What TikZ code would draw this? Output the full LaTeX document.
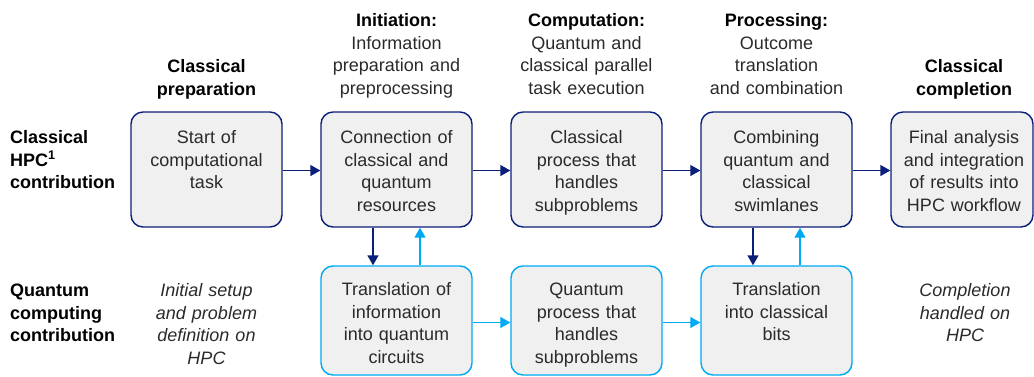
\documentclass[tikz,border=0pt]{standalone}
\usepackage{fontspec}
\setmainfont{Liberation Sans}
\usetikzlibrary{arrows.meta}
\definecolor{navy}{HTML}{0A1F7A}
\definecolor{cyanq}{HTML}{00A9F4}
\definecolor{boxfill}{HTML}{F0F0F0}
\definecolor{txt}{HTML}{2A2A2A}
\tikzset{
  cbox/.style={draw=navy, line width=1.4pt, fill=boxfill, rounded corners=12pt, minimum width=151pt, minimum height=115pt, inner sep=0pt},
  qbox/.style={draw=cyanq, line width=1.4pt, fill=boxfill, rounded corners=12pt, minimum width=151pt, minimum height=109pt, inner sep=0pt},
  btxt/.style={anchor=base, align=center, text width=150pt, inner sep=0pt, text=txt, font=\fontsize{18}{22.7}\selectfont},
  hdr/.style={anchor=base, align=center, text width=170pt, inner sep=0pt, text=txt, font=\fontsize{18}{22.7}\selectfont},
  lbl/.style={anchor=base west, align=left, text width=120pt, inner sep=0pt, text=black, font=\fontsize{18}{22.7}\selectfont\bfseries},
  itx/.style={anchor=base, align=center, text width=150pt, inner sep=0pt, text=txt, font=\fontsize{18}{22.7}\selectfont\itshape},
  carr/.style={navy, line width=1.4pt, -{Triangle[length=10pt,width=11pt]}},
  qarr/.style={cyanq, line width=1.4pt, -{Triangle[length=10pt,width=11pt]}}
}
\begin{document}
\begin{tikzpicture}[x=1pt,y=-1pt]
\useasboundingbox (0,0) rectangle (1034,376);
% headers
\node[hdr] (h1) at (206.5,72.5) {\textbf{\color{black}Classical}\\\textbf{\color{black}preparation}};
\node[hdr] (h2) at (396.5,26.5) {\textbf{\color{black}Initiation:}\\Information\\preparation and\\preprocessing};
\node[hdr] (h3) at (586.5,26.5) {\textbf{\color{black}Computation:}\\Quantum and\\classical parallel\\task execution};
\node[hdr] (h4) at (776.5,26.5) {\textbf{\color{black}Processing:}\\Outcome\\translation\\and combination};
\node[hdr] (h5) at (964,72.5) {\textbf{\color{black}Classical}\\\textbf{\color{black}completion}};
% row labels
\node[lbl] (l1) at (10,143.5) {Classical\\HPC\textsuperscript{1}\\contribution};
\node[lbl] (l2) at (10,296.5) {Quantum\\computing\\contribution};
% top boxes
\node[cbox] (c1) at (206.5,169.5) {};
\node[cbox] (c2) at (396.5,169.5) {};
\node[cbox] (c3) at (586.5,169.5) {};
\node[cbox] (c4) at (776.5,169.5) {};
\node[cbox, minimum width=142pt] (c5) at (962,169.5) {};
\node[btxt] (t1) at (206.5,143.5) {Start of\\computational\\task};
\node[btxt] (t2) at (396.5,143.5) {Connection of\\classical and\\quantum\\resources};
\node[btxt] (t3) at (586.5,143.5) {Classical\\process that\\handles\\subproblems};
\node[btxt] (t4) at (776.5,143.5) {Combining\\quantum and\\classical\\swimlanes};
\node[btxt] (t5) at (964,143.5) {Final analysis\\and integration\\of results into\\HPC workflow};
% bottom boxes
\node[qbox] (q2) at (396.5,320.5) {};
\node[qbox] (q3) at (586.5,320.5) {};
\node[qbox] (q4) at (776.5,320.5) {};
\node[btxt] (u2) at (396.5,295.5) {Translation of\\information\\into quantum\\circuits};
\node[btxt] (u3) at (586.5,295.5) {Quantum\\process that\\handles\\subproblems};
\node[btxt] (u4) at (776.5,295.5) {Translation\\into classical\\bits};
% italic notes
\node[itx] (i1) at (206.5,296.5) {Initial setup\\and problem\\definition on\\HPC};
\node[itx] (i5) at (965,296.5) {Completion\\handled on\\HPC};
% arrows top row
\draw[carr] (c1.east |- 0,170.5) -- (c2.west |- 0,170.5);
\draw[carr] (c2.east |- 0,170.5) -- (c3.west |- 0,170.5);
\draw[carr] (c3.east |- 0,170.5) -- (c4.west |- 0,170.5);
\draw[carr] (c4.east |- 0,170.5) -- (c5.west |- 0,170.5);
% arrows bottom row
\draw[qarr] (q2.east |- 0,322.5) -- (q3.west |- 0,322.5);
\draw[qarr] (q3.east |- 0,322.5) -- (q4.west |- 0,322.5);
% vertical arrows
\draw[carr] (c2.south -| 373,0) -- (q2.north -| 373,0);
\draw[qarr] (q2.north -| 420,0) -- (c2.south -| 420,0);
\draw[carr] (c4.south -| 753,0) -- (q4.north -| 753,0);
\draw[qarr] (q4.north -| 800,0) -- (c4.south -| 800,0);
\end{tikzpicture}
\end{document}
